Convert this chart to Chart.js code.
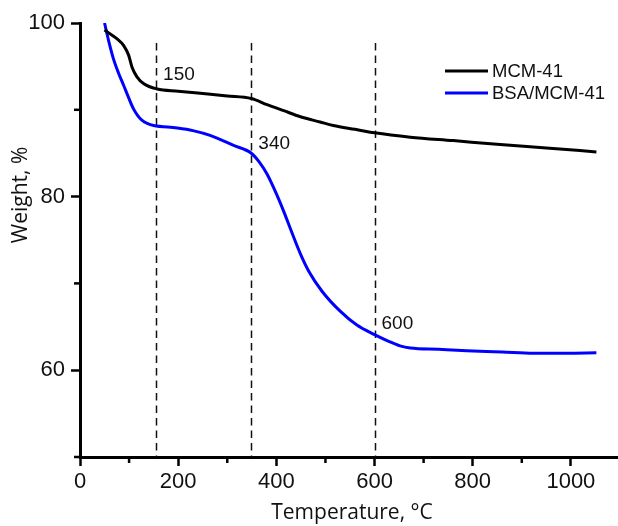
<!DOCTYPE html>
<html>
<head>
<meta charset="utf-8">
<script src="https://cdn.jsdelivr.net/npm/chart.js@4.4.1/dist/chart.umd.min.js"></script>
<style>
  body { margin: 0; background: #fff; }
  #wrap { width: 618px; height: 526px; }
</style>
</head>
<body>
<div id="wrap"><canvas id="chart-tga" width="618" height="526"></canvas></div>
<script>
// values
const mcmTemp   = [50, 55, 75, 89, 99, 106, 116, 130, 157, 200, 245, 300, 349, 381, 415, 449, 489, 516, 560, 600, 673, 760, 856, 950, 1052];
const mcmWeight = [99.2, 99.0, 98.2, 97.4, 96.3, 94.9, 93.8, 93.0, 92.4, 92.15, 91.9, 91.6, 91.3, 90.6, 89.9, 89.2, 88.6, 88.2, 87.75, 87.35, 86.85, 86.45, 86.0, 85.6, 85.15];

const bsaTemp   = [50, 59, 68, 78, 89, 99, 109, 118, 126, 138, 150, 198, 230, 265, 313, 349, 365, 381, 401, 415, 432, 449, 466, 493, 530, 564, 600, 630, 652, 673, 730, 788, 860, 924, 990, 1052];
const bsaWeight = [100, 97.8, 95.9, 94.3, 92.8, 91.4, 90.1, 89.3, 88.8, 88.4, 88.2, 87.9, 87.6, 87.05, 85.9, 85.0, 84.0, 82.6, 80.2, 78.3, 75.8, 73.4, 71.4, 69.1, 66.8, 65.2, 64.1, 63.3, 62.8, 62.55, 62.4, 62.25, 62.1, 61.95, 61.95, 62.0];

const seriesNames  = ['MCM-41', 'BSA/MCM-41'];
const markerTemps  = [155, 349, 600];
const markerLabels = ['150', '340', '600'];
const markerLabelY = [94.0, 86.1, 65.4];

const xTicks = [0, 200, 400, 600, 800, 1000];
const xMinor = [100, 300, 500, 700, 900];
const yTicks = [60, 80, 100];
const yMinor = [50, 70, 90];

function toPoints(xs, ys) {
    return xs.map((x, i) => ({ x: x, y: ys[i] }));
}

const tickFont = 'Liberation Sans, Arial, sans-serif';
const titleFont = '"Open Sans", sans-serif';

const extras = {
    id: 'extras',
    beforeDatasetsDraw(chart) {
        const ctx = chart.ctx;
        const xs = chart.scales.x, ys = chart.scales.y;
        ctx.save();
        ctx.strokeStyle = '#111';
        ctx.lineWidth = 1.5;
        ctx.setLineDash([7.5, 5]);
        markerTemps.forEach(t => {
            const px = Math.round(xs.getPixelForValue(t)) + 0.5;
            ctx.beginPath();
            ctx.moveTo(px, ys.getPixelForValue(97.7));
            ctx.lineTo(px, ys.bottom);
            ctx.stroke();
        });
        ctx.restore();
    },
    afterDraw(chart) {
        const ctx = chart.ctx;
        const xs = chart.scales.x, ys = chart.scales.y;
        ctx.save();

        // minor ticks
        ctx.strokeStyle = '#000';
        ctx.lineWidth = 2.5;
        xMinor.forEach(v => {
            const px = xs.getPixelForValue(v);
            ctx.beginPath();
            ctx.moveTo(px, ys.bottom);
            ctx.lineTo(px, ys.bottom + 6);
            ctx.stroke();
        });
        yMinor.forEach(v => {
            const py = ys.getPixelForValue(v);
            ctx.beginPath();
            ctx.moveTo(xs.left, py);
            ctx.lineTo(xs.left - 6, py);
            ctx.stroke();
        });

        // marker labels
        ctx.fillStyle = '#111';
        ctx.font = '19px ' + tickFont;
        ctx.textAlign = 'left';
        ctx.textBaseline = 'middle';
        markerTemps.forEach((t, i) => {
            ctx.fillText(markerLabels[i], xs.getPixelForValue(t) + 7, ys.getPixelForValue(markerLabelY[i]));
        });

        // legend
        ctx.font = '18.5px ' + tickFont;
        chart.data.datasets.forEach((ds, i) => {
            const y = 71 + i * 22;
            ctx.strokeStyle = ds.borderColor;
            ctx.lineWidth = 3;
            ctx.beginPath();
            ctx.moveTo(445, y);
            ctx.lineTo(488, y);
            ctx.stroke();
            ctx.fillStyle = '#111';
            ctx.fillText(ds.label, 492, y + 1);
        });

        // axis titles
        ctx.font = '21px ' + titleFont;
        ctx.textAlign = 'center';
        ctx.fillText('Temperature, \u00B0C', 352, 513);
        ctx.translate(21, 195);
        ctx.rotate(-Math.PI / 2);
        ctx.fillText('Weight, %', 0, 0);
        ctx.restore();
    }
};

function setTgaChart() {
    const ctx = document.getElementById('chart-tga');

    const data = {
        datasets: [
            {
                label: seriesNames[0],
                data: toPoints(mcmTemp, mcmWeight),
                borderColor: '#000000',
                borderWidth: 3,
                pointRadius: 0,
                cubicInterpolationMode: 'monotone',
                fill: false,
            },
            {
                label: seriesNames[1],
                data: toPoints(bsaTemp, bsaWeight),
                borderColor: '#0000ff',
                borderWidth: 3,
                pointRadius: 0,
                cubicInterpolationMode: 'monotone',
                fill: false,
            },
        ],
    };

    const config = {
        type: 'line',
        data: data,
        options: {
            responsive: false,
            animation: false,
            layout: { padding: { top: 23, right: 0, left: 0, bottom: 0 } },
            plugins: {
                legend: { display: false },
                tooltip: { enabled: false },
            },
            scales: {
                x: {
                    type: 'linear',
                    min: 0,
                    max: 1096,
                    afterBuildTicks: s => { s.ticks = xTicks.map(v => ({ value: v })); },
                    afterFit: s => { s.height = 69; },
                    grid: { drawOnChartArea: false, tickLength: 9, tickWidth: 2.5, tickColor: '#000' },
                    border: { color: '#000', width: 3 },
                    ticks: { color: '#111', font: { family: tickFont, size: 22 }, padding: 3, maxRotation: 0, callback: v => String(v) },
                },
                y: {
                    min: 50,
                    max: 100,
                    afterBuildTicks: s => { s.ticks = yTicks.map(v => ({ value: v })); },
                    afterFit: s => { s.width = 80; },
                    grid: { drawOnChartArea: false, tickLength: 9, tickWidth: 2.5, tickColor: '#000' },
                    border: { color: '#000', width: 3 },
                    ticks: { color: '#111', font: { family: tickFont, size: 22 }, padding: 6, callback: v => String(v) },
                },
            },
        },
        plugins: [extras],
    };

    new Chart(ctx, config);
}

setTgaChart();
</script>
</body>
</html>
